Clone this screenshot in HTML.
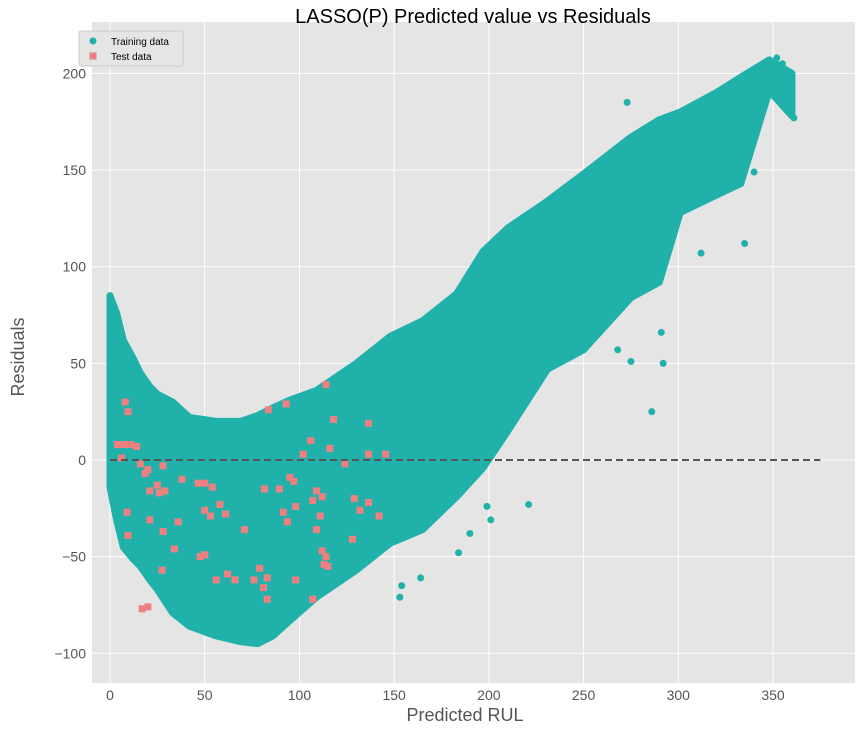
<!DOCTYPE html>
<html><head><meta charset="utf-8"><style>
body{margin:0;background:#fff;font-family:"Liberation Sans",sans-serif;}
</style></head><body>
<svg id="chart" width="862" height="730" xmlns="http://www.w3.org/2000/svg" font-family="Liberation Sans, sans-serif">
<rect x="0" y="0" width="862" height="730" fill="#fff"/>
<rect x="92" y="22" width="763" height="661" fill="#e5e5e5"/>
<g id="grid"></g>
<g id="cloud"></g>
<g id="train"></g>
<g id="test"></g>
<line id="zero" stroke="#555" stroke-width="2" stroke-dasharray="7,4"/>
<g id="ticks"></g>
<text x="473" y="23" text-anchor="middle" font-size="20" fill="#000">LASSO(P) Predicted value vs Residuals</text>
<text x="465" y="721" text-anchor="middle" font-size="18" fill="#555">Predicted RUL</text>
<text transform="translate(24,357) rotate(-90)" text-anchor="middle" font-size="18" fill="#555">Residuals</text>
<g>
<rect x="79" y="31" width="104" height="35" fill="#e5e5e5" stroke="#ccc" rx="2"/>
<circle cx="93" cy="41" r="3.5" fill="#20b2aa"/>
<text x="111" y="45" font-size="10" fill="#000">Training data</text>
<rect x="89.5" y="52.5" width="7" height="7" fill="#f08080"/>
<text x="111" y="60" font-size="10" fill="#000">Test data</text>
</g>
</svg>
<script>
const xTicks=[0,50,100,150,200,250,300,350];
const yTicks=[-100,-50,0,50,100,150,200];
// density envelope of the training cloud
const envX=[0,3.5,7,12,16,21,25,33,42,56,69,78,86,95,109,130,148,165,183,197,210,231,250,275,290,301,320,333,348,360];
const envUpper=[85,76,62,53,45,38,34,30,22,20,20,23,27,31,36,50,64,72,86,108,120,134,148,167,176,180,190,198,207,200];
const envLower=[-14,-31,-45,-51,-55,-62,-67,-79,-86,-91,-94,-95,-91,-83,-71,-57,-43,-36,-19,-4,15,47,57,84,92,128,137,143,191,178];
// isolated training points
const trainX=[0,273,335,312,286,291,292,275,268,221,201,199,340,361,360,153,154,164,184,190,355,352];
const trainY=[85,185,112,107,25,66,50,51,57,-23,-31,-24,149,177,185,-71,-65,-61,-48,-38,205,208];
// test points
const testX=[9.5,8,4,7.4,11,14,6,16,20,18.5,28,21,25,26,29,38,9,9.5,21,28,34,27.5,36,46.5,50,54,50,53,58,61,47.6,50,56,62,66,71,76,79,83.6,81.5,89.4,91.5,93.6,83,83,81,95,97,98,98,102,106,109,112,107,109,111,112,114,113,115,107,116,114,118,124,129,128,132,136.5,136.5,136.5,142,145.5,93,17,20];
const testY=[25,30,8,8,8,7,1,-2,-5,-7,-3,-16,-13,-17,-16,-10,-27,-39,-31,-37,-46,-57,-32,-12,-12,-14,-26,-29,-23,-28,-50,-49,-62,-59,-62,-36,-62,-56,26,-15,-15,-27,-32,-61,-72,-66,-9,-11,-24,-62,3,10,-16,-19,-21,-36,-29,-47,-50,-54,-55,-72,6,39,21,-2,-20,-41,-26,19,3,-22,-29,3,29,-77,-76];
const X=v=>110+v*1.8943, Y=v=>460-v*1.933;
const NS='http://www.w3.org/2000/svg';
function mk(t,p,a){const e=document.createElementNS(NS,t);for(const k in a)e.setAttribute(k,a[k]);p.appendChild(e);return e;}
const grid=document.getElementById('grid'),ticks=document.getElementById('ticks');
xTicks.forEach(t=>{const g=mk('line',grid,{x1:X(t),x2:X(t),y1:22,y2:683,stroke:'#fff','stroke-width':1});


const l=mk('text',ticks,{x:X(t),y:700,'text-anchor':'middle','font-size':14,fill:'#555'});l.textContent=t;

});
yTicks.forEach(t=>{const g=mk('line',grid,{x1:92,x2:855,y1:Y(t),y2:Y(t),stroke:'#fff','stroke-width':1});


const l=mk('text',ticks,{x:86,y:Y(t)+5,'text-anchor':'end','font-size':14,fill:'#555'});l.textContent=String(t).replace('-','\u2212');

});
let pts=envX.map((x,i)=>X(x)+','+Y(envUpper[i]));
for(let i=envX.length-1;i>=0;i--)pts.push(X(envX[i])+','+Y(envLower[i]));
const poly=mk('polygon',document.getElementById('cloud'),{points:pts.join(' '),fill:'#20b2aa',stroke:'#20b2aa','stroke-width':7,'stroke-linejoin':'round'});


const tg=document.getElementById('train');
trainX.forEach((x,i)=>{const c=mk('circle',tg,{cx:X(x),cy:Y(trainY[i]),r:3.5,fill:'#20b2aa'});

});
const sg=document.getElementById('test');
testX.forEach((x,i)=>{const r=mk('rect',sg,{x:X(x)-3.5,y:Y(testY[i])-3.5,width:7,height:7,fill:'#f08080'});

});
const z=document.getElementById('zero');
z.setAttribute('x1',X(0));z.setAttribute('x2',X(375));z.setAttribute('y1',Y(0));z.setAttribute('y2',Y(0));
</script>
</body></html>
